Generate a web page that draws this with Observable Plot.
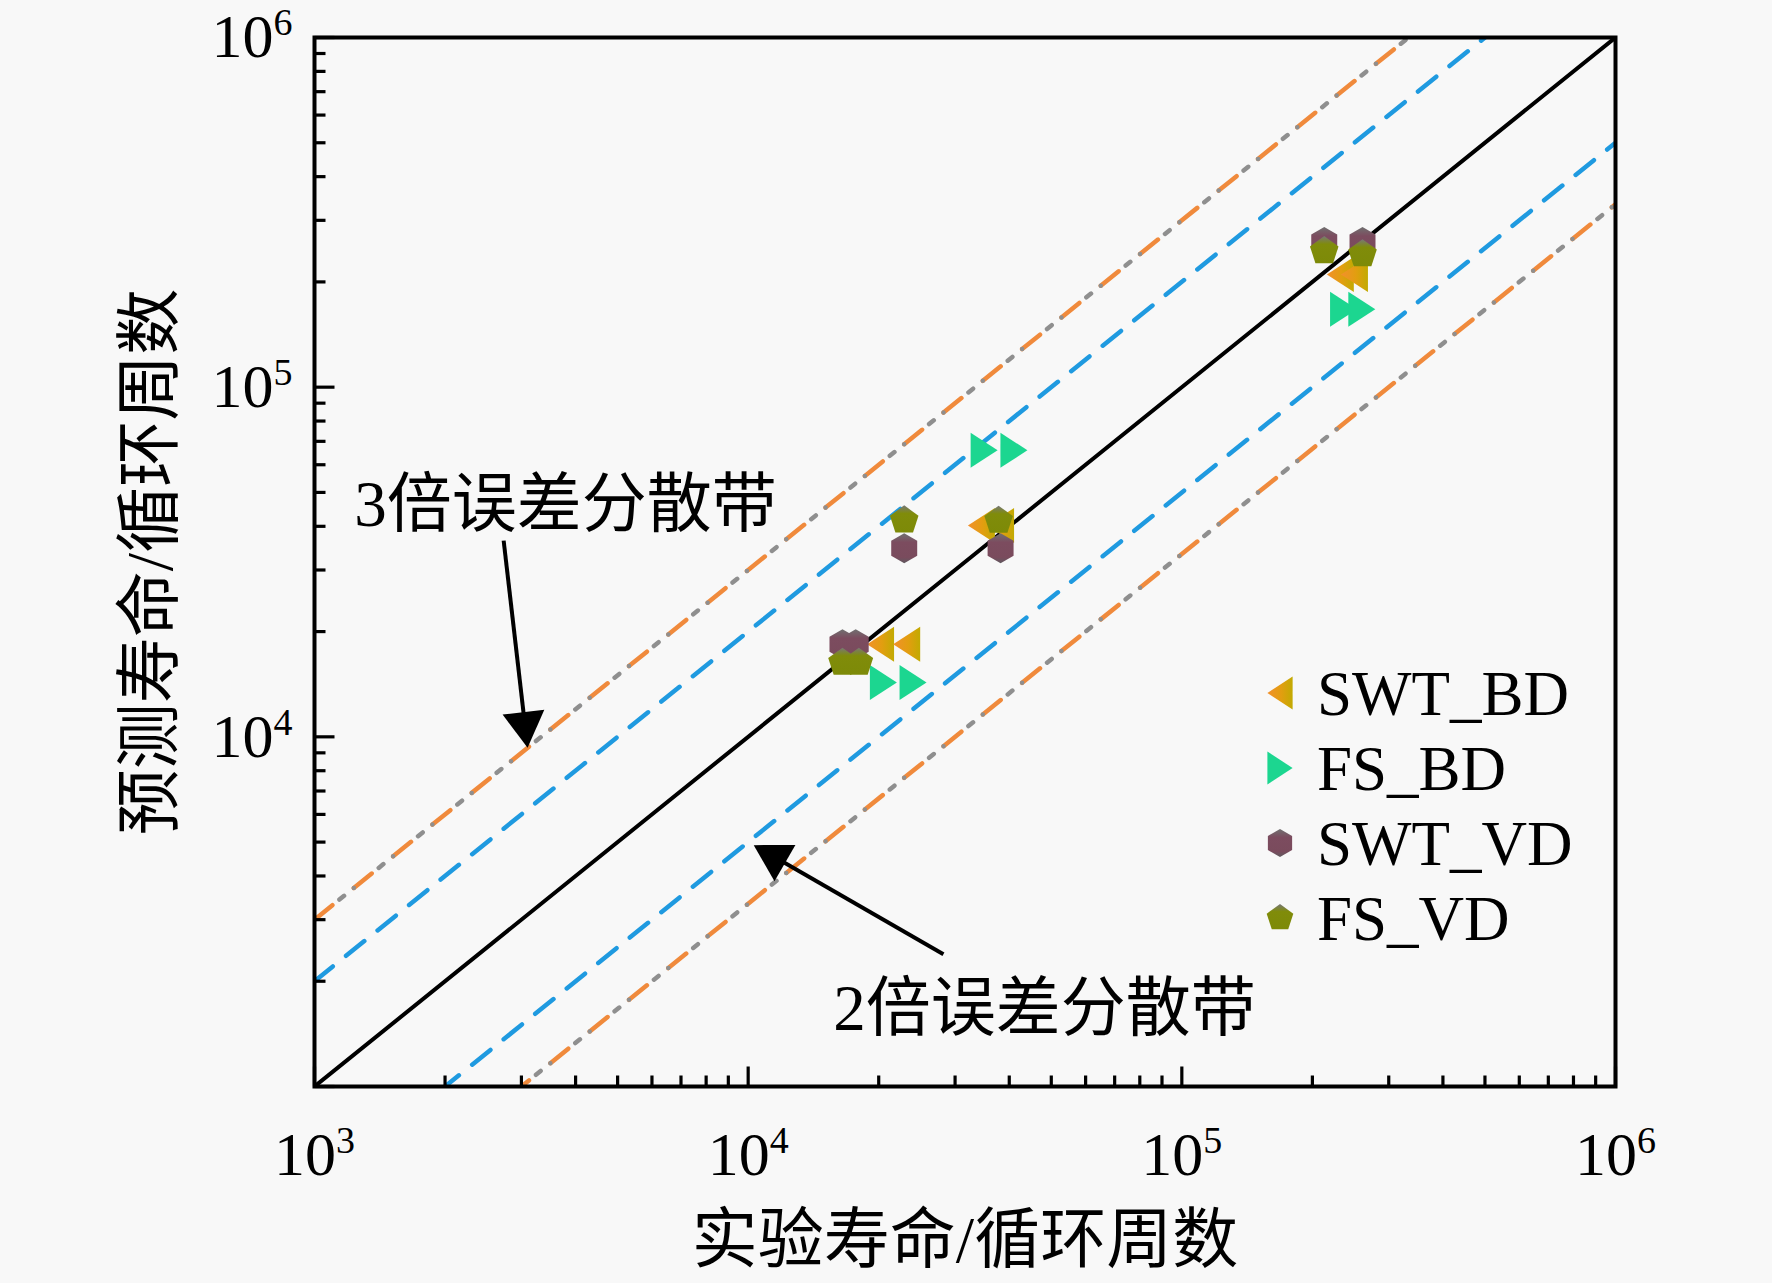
<!DOCTYPE html>
<html><head><meta charset="utf-8">
<script src="https://cdn.jsdelivr.net/npm/d3@7"></script>
<script src="https://cdn.jsdelivr.net/npm/@observablehq/plot@0.6"></script>
<style>
html,body{margin:0;padding:0;background:#f8f8f8;}
#chart{width:1772px;height:1283px;}
</style></head><body><div id="chart"></div>
<script>
// ---------- data ----------
const seriesNames = ["SWT_BD", "FS_BD", "SWT_VD", "FS_VD"];
const swtBdX = [20200, 23200, 34500, 38200, 232000, 250000];
const swtBdY = [18400, 18400, 40200, 40200, 210000, 210000];
const fsBdX  = [20500, 24000, 35000, 41000, 236000, 260000];
const fsBdY  = [14300, 14300, 66000, 66000, 167000, 167000];
const swtVdX = [16500, 17700, 22900, 38200, 213000, 261000];
const swtVdY = [18400, 18400, 34600, 34600, 260000, 260000];
const fsVdX  = [16500, 18000, 22900, 37800, 213000, 261000];
const fsVdY  = [16300, 16300, 41600, 41500, 245000, 240000];
const bandSolid = [1];
const band2 = [2, 0.5];
const band3 = [3, 1 / 3];
const axisDomain = [1e3, 1e6];
const xTickLabels = [1e3, 1e4, 1e5, 1e6];
const yTickLabels = [1e4, 1e5, 1e6];
const xTitle = "实验寿命/循环周数";
const yTitle = "预测寿命/循环周数";
const annotations = [
  {label: "3倍误差分散带", x: 3790, y: 45900, fromX: 2730, fromY: 36400, toX: 3100, toY: 9300},
  {label: "2倍误差分散带", x: 48200, y: 1660, fromX: 28200, fromY: 2390, toX: 10300, toY: 4900}
];

// ---------- layout ----------
const W = 1772, H = 1283, MT = 37, MR = 157, MB = 197, ML = 314;
const FONT = "'Liberation Serif', 'Noto Sans CJK SC', serif";

// ---------- symbols ----------
const sym = f => ({draw(ctx, size) { const r = Math.sqrt(size / Math.PI); f(ctx, r); }});
const triLeft = sym((c, r) => { c.moveTo(-0.9 * r, 0); c.lineTo(0.9 * r, -1.17 * r); c.lineTo(0.9 * r, 1.17 * r); c.closePath(); });
const triRight = sym((c, r) => { c.moveTo(0.9 * r, 0); c.lineTo(-0.9 * r, -1.17 * r); c.lineTo(-0.9 * r, 1.17 * r); c.closePath(); });
const poly = (n) => sym((c, r) => {
  for (let k = 0; k < n; k++) {
    const a = (-90 + k * 360 / n) * Math.PI / 180;
    k ? c.lineTo(r * Math.cos(a), r * Math.sin(a)) : c.moveTo(r * Math.cos(a), r * Math.sin(a));
  }
  c.closePath();
});
const hexagon = poly(6), pentagon = poly(5);
const headSym = {draw(c) { c.moveTo(0, 0); c.lineTo(21, 36); c.lineTo(-21, 36); c.closePath(); }};
const tickShape = {draw(c, l) { c.moveTo(0, 0); c.lineTo(0, -l); }};

const fills = ["url(#gSwtBd)", "#1cd690", "url(#gSwtVd)", "url(#gFsVd)"];
const symbols = [triLeft, triRight, hexagon, pentagon];

const toRows = (xs, ys) => xs.map((x, i) => ({x, y: ys[i]}));
const series = [toRows(swtBdX, swtBdY), toRows(fsBdX, fsBdY), toRows(swtVdX, swtVdY), toRows(fsVdX, fsVdY)];
const bandRows = ks => ks.map(k => axisDomain.map(x => ({x, y: k * x, k})));

const majorTicks = [1e3, 1e4, 1e5, 1e6];
const minorTicks = [];
for (const d of [1e3, 1e4, 1e5]) for (let m = 2; m <= 9; m++) minorTicks.push(m * d);

// arrow geometry (pixel direction for the filled heads)
const X = d3.scaleLog(axisDomain, [ML, W - MR]);
const Y = d3.scaleLog(axisDomain, [H - MB, MT]);
const arrows = annotations.map(a => {
  const x1 = X(a.fromX), y1 = Y(a.fromY), x2 = X(a.toX), y2 = Y(a.toY);
  const dx = x2 - x1, dy = y2 - y1, L = Math.hypot(dx, dy);
  return {...a, angle: Math.atan2(dx, -dy) * 180 / Math.PI,
    baseX: X.invert(x2 - dx / L * 34), baseY: Y.invert(y2 - dy / L * 34)};
});

const marks = [];
// band lines
for (const b of bandRows(band3)) {
  marks.push(Plot.line(b, {x: "x", y: "y", stroke: "#f08a3c", strokeWidth: 4.5, strokeDasharray: "23 27.5", clip: true}));
  marks.push(Plot.line(b, {x: "x", y: "y", stroke: "#8f8f8f", strokeWidth: 4.5, strokeDasharray: "0 32 6 12.5", clip: true}));
}
for (const b of bandRows(band2))
  marks.push(Plot.line(b, {x: "x", y: "y", stroke: "#1f9ae0", strokeWidth: 4.5, strokeDasharray: "23.5 17", clip: true}));
for (const b of bandRows(bandSolid))
  marks.push(Plot.line(b, {x: "x", y: "y", stroke: "#000", strokeWidth: 4, clip: true}));

// points
series.forEach((s, i) => marks.push(Plot.dot(s, {x: "x", y: "y", symbol: symbols[i], r: 15, fill: fills[i], stroke: "none"})));

// annotations
marks.push(Plot.link(arrows, {x1: "fromX", y1: "fromY", x2: "baseX", y2: "baseY", stroke: "#000", strokeWidth: 4}));
marks.push(Plot.dot(arrows, {x: "toX", y: "toY", symbol: headSym, rotate: "angle", fill: "#000", stroke: "none"}));
marks.push(Plot.text(annotations, {x: "x", y: "y", text: "label", fontSize: 65, fill: "#000"}));

// inward ticks
const tk = {shape: tickShape, anchor: "start", stroke: "#000", fill: "none", strokeWidth: 3.2, strokeLinecap: "butt"};
marks.push(Plot.vector(majorTicks, {...tk, x: d => d, frameAnchor: "bottom", rotate: 0, length: 20}));
marks.push(Plot.vector(minorTicks, {...tk, x: d => d, frameAnchor: "bottom", rotate: 0, length: 11}));
marks.push(Plot.vector(majorTicks, {...tk, y: d => d, frameAnchor: "left", rotate: 90, length: 20}));
marks.push(Plot.vector(minorTicks, {...tk, y: d => d, frameAnchor: "left", rotate: 90, length: 11}));

// axes labels
const fmt = d => "10^" + Math.round(Math.log10(d));
marks.push(Plot.axisX({ticks: xTickLabels, tickSize: 0, tickPadding: 44, tickFormat: fmt, fontSize: 62, label: null}));
marks.push(Plot.axisY({ticks: yTickLabels, tickSize: 0, tickPadding: 22, tickFormat: fmt, fontSize: 62, label: null}));
marks.push(Plot.text([xTitle], {text: d => d, frameAnchor: "bottom", dy: 154, lineAnchor: "middle", textAnchor: "middle", fontSize: 66}));
marks.push(Plot.text([yTitle], {text: d => d, frameAnchor: "left", dx: -164, rotate: -90, lineAnchor: "middle", textAnchor: "middle", fontSize: 66}));
marks.push(Plot.frame({stroke: "#000", strokeWidth: 4}));

const svg = Plot.plot({
  width: W, height: H,
  marginTop: MT, marginRight: MR, marginBottom: MB, marginLeft: ML,
  x: {type: "log", domain: axisDomain, label: null},
  y: {type: "log", domain: axisDomain, label: null},
  style: {background: "#f8f8f8", fontFamily: FONT, color: "#000"},
  marks
});

// gradients for shaded markers
const sel = d3.select(svg);
const defs = sel.insert("defs", ":first-child");
function grad(id, x2, y2, stops) {
  const g = defs.append("linearGradient").attr("id", id).attr("x1", 0).attr("y1", 0).attr("x2", x2).attr("y2", y2);
  stops.forEach(([o, c]) => g.append("stop").attr("offset", o).attr("stop-color", c));
}
grad("gSwtBd", 1, 0, [[0, "#f2902c"], [0.55, "#e29e10"], [1, "#c2aa02"]]);
grad("gSwtVd", 0, 1, [[0, "#707070"], [0.3, "#7c4c5f"], [0.8, "#7a4b5d"], [1, "#5f5a5f"]]);
grad("gFsVd", 0, 1, [[0, "#777777"], [0.3, "#808c0a"], [1, "#7d8a08"]]);

// superscript exponents in tick labels
sel.selectAll('g[aria-label="x-axis tick label"] text, g[aria-label="y-axis tick label"] text').each(function() {
  const [b, e] = this.textContent.split("^");
  this.textContent = "";
  d3.select(this).append("tspan").text(b);
  d3.select(this).append("tspan").attr("dy", -22).attr("font-size", 38).text(e);
});

// legend
const lg = sel.append("g").attr("font-family", FONT).attr("font-size", 63).attr("text-anchor", "start");
seriesNames.forEach((name, i) => {
  const p = d3.path(); symbols[i].draw(p, Math.PI * 14 * 14);
  const row = lg.append("g").attr("transform", `translate(1280,${693 + 75 * i})`);
  row.append("path").attr("d", p.toString()).attr("fill", fills[i]);
  row.append("text").attr("x", 37).attr("dy", "0.35em").attr("text-anchor", "start").text(name);
});

document.getElementById("chart").appendChild(svg);
</script>
</body></html>
